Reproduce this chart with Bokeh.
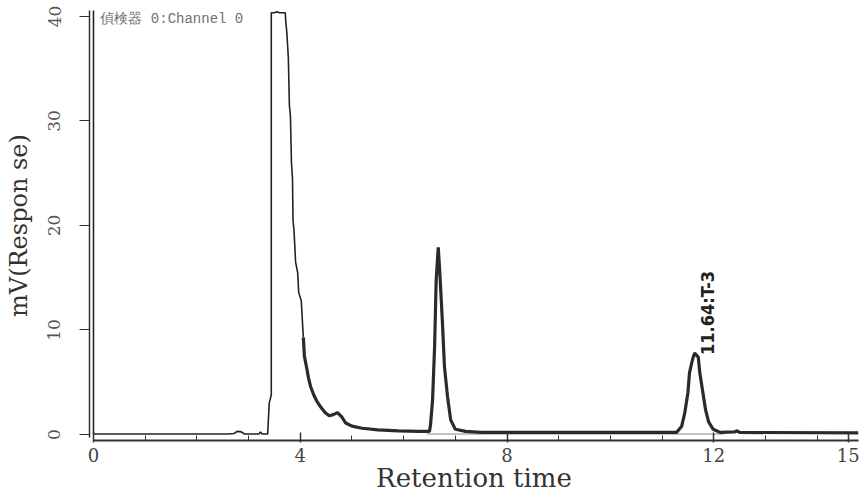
from bokeh.plotting import figure
from bokeh.models import FixedTicker, Range1d, Label
from bokeh.core.properties import value
from bokeh.embed import file_html
from bokeh.resources import INLINE
import math

# ---- data ----
time_thin = [0.0, 0.0, 0.5, 1.5, 2.6, 2.72, 2.78, 2.86, 2.92, 3.1, 3.2, 3.23, 3.26, 3.37,
             3.40, 3.44, 3.44, 3.5, 3.55, 3.6, 3.71, 3.72, 3.74, 3.77, 3.79, 3.81, 3.83,
             3.85, 3.86, 3.88, 3.91, 3.95, 3.97, 4.02, 4.04, 4.06]
signal_thin = [41.5, 0.05, 0.05, 0.05, 0.05, 0.1, 0.3, 0.25, 0.05, 0.05, 0.05, 0.25, 0.05, 0.05,
               3.0, 3.8, 40.35, 40.35, 40.45, 40.35, 40.35, 39.5, 38.5, 36.0, 31.5, 30.5, 26.0,
               24.5, 20.5, 19.5, 16.5, 15.5, 13.6, 12.8, 11.0, 9.3]

time_bold = [4.06, 4.08, 4.12, 4.16, 4.2, 4.26, 4.32, 4.4, 4.48, 4.56, 4.64, 4.72, 4.8, 4.88,
             5.0, 5.2, 5.5, 5.9, 6.3, 6.5, 6.52, 6.56, 6.60, 6.63, 6.67, 6.70, 6.75, 6.79,
             6.85, 6.91, 7.0, 7.2, 7.5, 9.0, 10.5, 11.2, 11.28, 11.38, 11.44, 11.50, 11.53,
             11.59, 11.63, 11.70, 11.73, 11.79, 11.84, 11.90, 11.99, 12.12, 12.4, 12.45,
             12.5, 14.8]
signal_bold = [9.3, 7.5, 6.5, 5.4, 4.6, 3.8, 3.2, 2.6, 2.1, 1.8, 1.9, 2.1, 1.7, 1.1,
               0.8, 0.6, 0.45, 0.35, 0.3, 0.3, 0.9, 3.3, 8.5, 14.8, 17.9, 15.5, 10.8, 6.5,
               3.6, 1.4, 0.5, 0.3, 0.2, 0.2, 0.2, 0.2, 0.2, 0.8, 2.1, 4.0, 5.9,
               7.2, 7.8, 7.4, 5.9, 4.0, 2.4, 1.2, 0.5, 0.2, 0.25, 0.35,
               0.2, 0.15]

baseline_time = [6.45, 7.3, 11.2, 12.2]
baseline_signal = [0.05, 0.05, 0.05, 0.05]

peak_rt = [11.64]
peak_height = [7.8]
peak_label = ["11.64:T-3"]

x_ticks = [0, 4, 8, 12, 14.6]
x_tick_labels = {0: "0", 4: "4", 8: "8", 12: "12", 14.6: "15"}
x_minor = list(range(0, 15))
y_ticks = [0, 10, 20, 30, 40]

x_title = "Retention time"
y_title = "mV(Respon se)"
channel_text = "偵検器  0:Channel  0"

# ---- figure ----
p = figure(width=861, height=495, output_backend="svg", toolbar_location=None,
           x_range=Range1d(-0.077, 14.80), y_range=Range1d(-0.573, 40.57),
           min_border_left=89, min_border_right=3, min_border_top=10, min_border_bottom=54)
p.outline_line_color = None
p.xgrid.visible = False
p.ygrid.visible = False
p.background_fill_color = "white"

p.line(baseline_time, baseline_signal, line_color="#b0b0b0", line_width=1.5)
p.line(time_thin, signal_thin, line_color="#222222", line_width=1.6)
p.line(time_bold, signal_bold, line_color="#2a2a2a", line_width=3.2)

p.text(peak_rt, peak_height, text=peak_label, angle=math.pi / 2,
       text_align="left", text_baseline="middle", x_offset=12, y_offset=2,
       text_font=value("DejaVu Sans Condensed"), text_font_style="bold",
       text_font_size="18px", text_color="#222222")

p.add_layout(Label(x=0.135, y=39.8, text=channel_text,
                   text_font="Liberation Mono", text_font_size="14px", text_color="#707070",
                   text_baseline="middle"))

# x axis
xa = p.xaxis[0]
xa.ticker = FixedTicker(ticks=x_ticks, minor_ticks=x_minor)
xa.major_label_overrides = x_tick_labels
xa.bounds = (0, 14.8)
xa.axis_line_width = 2
xa.axis_line_color = "#333333"
xa.major_tick_in = 8
xa.major_tick_out = 2
xa.minor_tick_in = 5
xa.minor_tick_out = 0
xa.major_tick_line_width = 1.5
xa.major_tick_line_color = "#333333"
xa.minor_tick_line_color = "#333333"
xa.major_label_standoff = 5
xa.major_label_text_font = "DejaVu Serif"
xa.major_label_text_font_size = "18px"
xa.major_label_text_color = "#444444"
xa.axis_label = x_title
xa.axis_label_text_font = "DejaVu Serif"
xa.axis_label_text_font_size = "26px"
xa.axis_label_text_font_style = "normal"
xa.axis_label_text_color = "#333333"
xa.axis_label_standoff = -2

# y axis
ya = p.yaxis[0]
ya.ticker = FixedTicker(ticks=y_ticks, minor_ticks=[])
ya.bounds = (-0.3, 40.57)
ya.axis_line_width = 1.5
ya.axis_line_color = "#333333"
ya.major_tick_in = 0
ya.major_tick_out = 10
ya.major_tick_line_color = "#333333"
ya.major_tick_line_width = 1.2
ya.major_label_orientation = "vertical"
ya.major_label_standoff = 19
ya.major_label_text_font = "DejaVu Serif"
ya.major_label_text_font_size = "17px"
ya.major_label_text_color = "#555555"
ya.axis_label = y_title
ya.axis_label_text_font = "DejaVu Serif"
ya.axis_label_text_font_size = "24px"
ya.axis_label_text_font_style = "normal"
ya.axis_label_text_color = "#333333"
ya.axis_label_standoff = 13

open("out.html", "w").write(file_html(p, INLINE))
